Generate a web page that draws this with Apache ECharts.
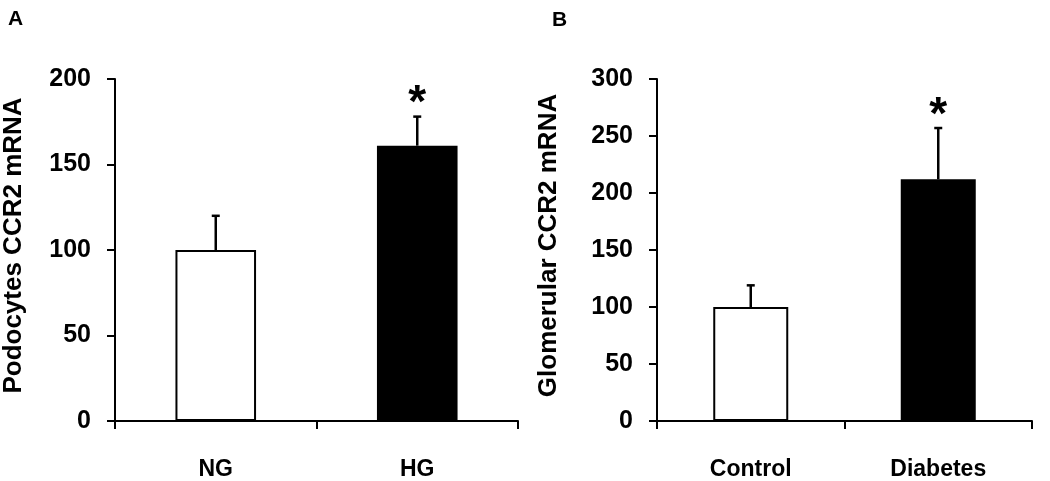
<!DOCTYPE html>
<html>
<head>
<meta charset="utf-8">
<script src="https://cdn.jsdelivr.net/npm/echarts@6/dist/echarts.min.js"></script>
<style>
html,body{margin:0;padding:0;background:#fff;}
#chart{width:1050px;height:481px;}
</style>
</head>
<body>
<div id="chart"></div>
<script>
// Panel A
const panelACategories = ['NG', 'HG'];
const panelAMeans = [100, 161];
const panelAErrors = [20, 17];
const panelASignif = ['', '*'];
const panelATicks = { min: 0, max: 200, interval: 50 };
// Panel B
const panelBCategories = ['Control', 'Diabetes'];
const panelBMeans = [100, 212];
const panelBErrors = [19, 45];
const panelBSignif = ['', '*'];
const panelBTicks = { min: 0, max: 300, interval: 50 };

const FONT = '"Liberation Sans", Arial, sans-serif';
const chart = echarts.init(document.getElementById('chart'), null, { renderer: 'canvas' });

function errRender(signif) {
  return function (params, api) {
    const i = api.value(0);
    const mean = api.value(1);
    const err = api.value(2);
    const base = api.coord([i, mean]);
    const top = api.coord([i, mean + err]);
    const children = [
      { type: 'line', shape: { x1: base[0], y1: base[1], x2: top[0], y2: top[1] },
        style: { stroke: '#000', lineWidth: 2.5 } },
      { type: 'line', shape: { x1: top[0] - 4, y1: top[1], x2: top[0] + 4, y2: top[1] },
        style: { stroke: '#000', lineWidth: 2.5 } }
    ];
    const s = signif[params.dataIndex];
    if (s) {
      children.push({ type: 'text', x: top[0], y: top[1] - 12,
        style: { text: s, fill: '#000', font: 'bold 46px ' + FONT, align: 'center', verticalAlign: 'middle' } });
    }
    return { type: 'group', children: children };
  };
}

function yAxisCfg(grid, ticks, name, labelMargin, nameGap) {
  return {
    type: 'value', gridIndex: grid, min: ticks.min, max: ticks.max, interval: ticks.interval,
    name: name, nameLocation: 'middle', nameGap: nameGap, nameRotate: 90,
    nameTextStyle: { fontFamily: FONT, fontSize: 26, fontWeight: 'bold', color: '#000', padding: [0, 0, 0, 9] },
    axisLine: { show: true, lineStyle: { color: '#000', width: 2 } },
    axisTick: { show: true, inside: false, length: 8, lineStyle: { color: '#000', width: 2 } },
    axisLabel: { fontFamily: FONT, fontSize: 25, fontWeight: 'bold', color: '#000', margin: labelMargin },
    splitLine: { show: false }
  };
}
function xAxisCfg(grid, cats) {
  return {
    type: 'category', gridIndex: grid, data: cats,
    axisLine: { show: true, lineStyle: { color: '#000', width: 2 } },
    axisTick: { show: true, inside: false, length: 8, alignWithLabel: false, lineStyle: { color: '#000', width: 2 } },
    axisLabel: { fontFamily: FONT, fontSize: 23, fontWeight: 'bold', color: '#000', margin: 37 }
  };
}

const option = {
  backgroundColor: '#fff',
  animation: false,
  title: [
    { text: 'A', left: 8, top: 9, padding: 0, textStyle: { fontFamily: FONT, fontSize: 21, fontWeight: 'bold', color: '#000' } },
    { text: 'B', left: 552, top: 10, padding: 0, textStyle: { fontFamily: FONT, fontSize: 21, fontWeight: 'bold', color: '#000' } }
  ],
  grid: [
    { left: 114, top: 79, width: 404, height: 346 },
    { left: 657, top: 79, width: 375, height: 345.5 }
  ],
  xAxis: [xAxisCfg(0, panelACategories), xAxisCfg(1, panelBCategories)],
  yAxis: [
    yAxisCfg(0, panelATicks, 'Podocytes CCR2 mRNA', 24, 88),
    yAxisCfg(1, panelBTicks, 'Glomerular CCR2 mRNA', 24, 95)
  ],
  series: [
    { type: 'bar', xAxisIndex: 0, yAxisIndex: 0, barWidth: '40%',
      data: panelAMeans.map((v, i) => ({ value: v, itemStyle: { color: i === 0 ? '#fff' : '#000', borderColor: '#000', borderWidth: 2 } })) },
    { type: 'custom', xAxisIndex: 0, yAxisIndex: 0, renderItem: errRender(panelASignif),
      data: panelAMeans.map((v, i) => [i, v, panelAErrors[i]]), z: 5 },
    { type: 'bar', xAxisIndex: 1, yAxisIndex: 1, barWidth: '40%',
      data: panelBMeans.map((v, i) => ({ value: v, itemStyle: { color: i === 0 ? '#fff' : '#000', borderColor: '#000', borderWidth: 2 } })) },
    { type: 'custom', xAxisIndex: 1, yAxisIndex: 1, renderItem: errRender(panelBSignif),
      data: panelBMeans.map((v, i) => [i, v, panelBErrors[i]]), z: 5 }
  ]
};
chart.setOption(option);
</script>
</body>
</html>
